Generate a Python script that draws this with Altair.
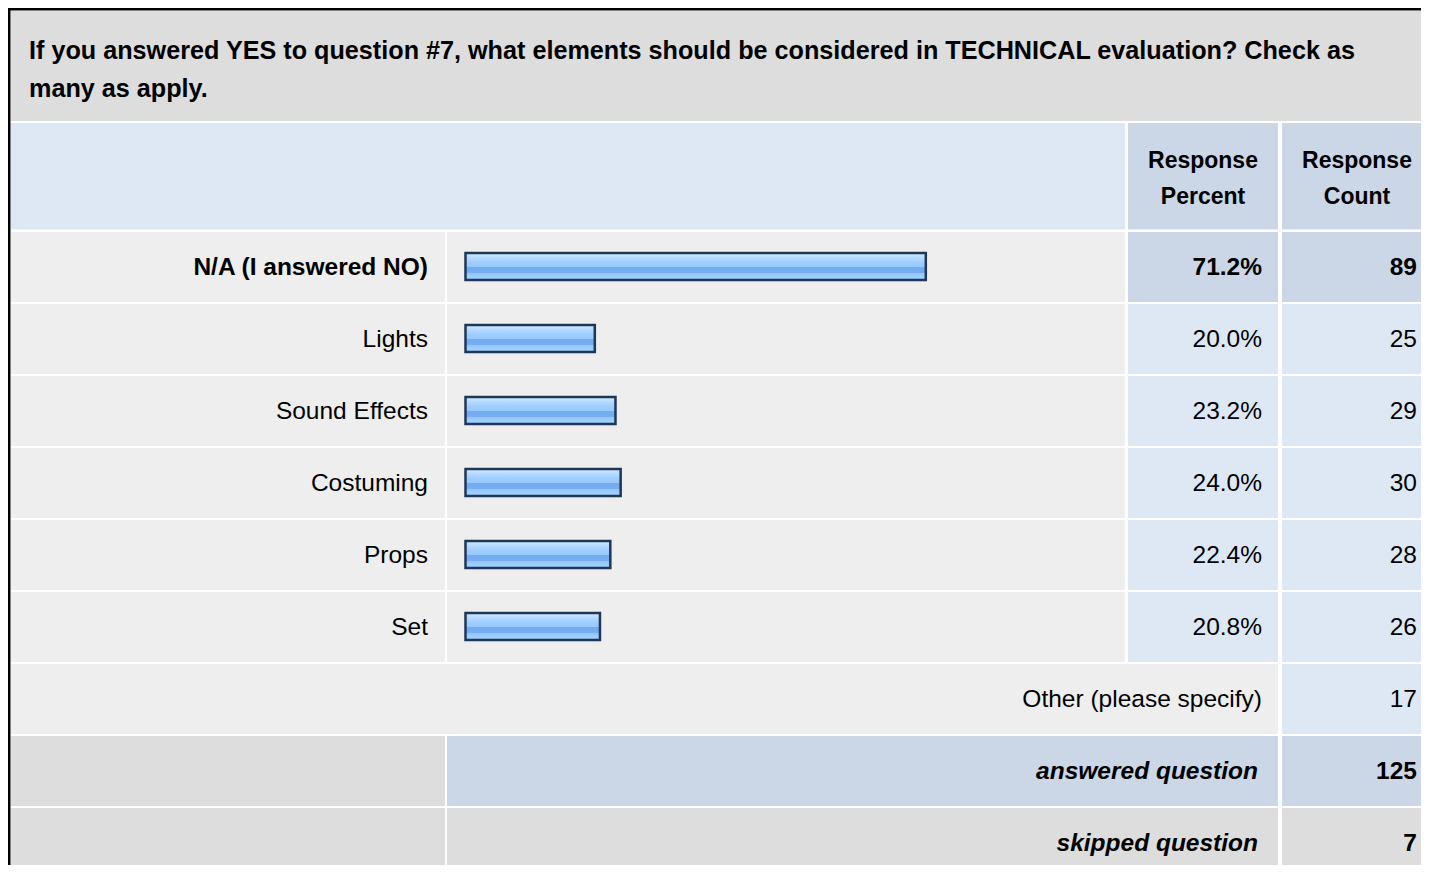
import altair as alt
import pandas as pd

# ---------------- data ----------------
title_lines = [
    "If you answered YES to question #7, what elements should be considered in TECHNICAL evaluation? Check as",
    "many as apply.",
]
header_percent = ["Response", "Percent"]
header_count = ["Response", "Count"]
categories = ["N/A (I answered NO)", "Lights", "Sound Effects", "Costuming", "Props", "Set"]
percents = [71.2, 20.0, 23.2, 24.0, 22.4, 20.8]
counts = [89, 25, 29, 30, 28, 26]
other_label = "Other (please specify)"
other_count = 17
answered_label = "answered question"
answered_count = 125
skipped_label = "skipped question"
skipped_count = 7

# ---------------- layout (chart pixels) ----------------
W, H = 1413, 857
C_LAB = (3, 437)
C_BAR = (439, 1117)
C_PCT = (1120, 1270)
C_CNT = (1274, W)
TITLE_Y = (3, 113)
HEAD_Y = (115, 221.5)
ROW0, PITCH, ROW_H = 224, 72, 70

GRAY = "#DDDDDD"
LIGHT = "#EEEEEE"
BLUE = "#DEE8F5"
BLUE2 = "#CBD7E6"
FONT = "Liberation Sans"

def row_top(i):
    return ROW0 + PITCH * i

cells = []
def cell(c, y, fill):
    cells.append({"x": c[0], "x2": c[1], "y": y[0], "y2": min(y[1], H), "fill": fill})

cell((C_LAB[0], W), TITLE_Y, GRAY)
cell((C_LAB[0], C_BAR[1]), HEAD_Y, BLUE)
cell(C_PCT, HEAD_Y, BLUE2)
cell(C_CNT, HEAD_Y, BLUE2)
pmax = max(percents)
for i, p in enumerate(percents):
    ry = (row_top(i), row_top(i) + ROW_H)
    cell(C_LAB, ry, LIGHT)
    cell(C_BAR, ry, LIGHT)
    f = BLUE2 if p == pmax else BLUE
    cell(C_PCT, ry, f)
    cell(C_CNT, ry, f)
n = len(categories)
ry = (row_top(n), row_top(n) + ROW_H)
cell((C_LAB[0], C_PCT[1]), ry, LIGHT)
cell(C_CNT, ry, BLUE)
ry = (row_top(n + 1), row_top(n + 1) + ROW_H)
cell(C_LAB, ry, GRAY)
cell((C_BAR[0], C_PCT[1]), ry, BLUE2)
cell(C_CNT, ry, BLUE2)
ry = (row_top(n + 2), row_top(n + 2) + ROW_H)
cell(C_LAB, ry, GRAY)
cell((C_BAR[0], C_PCT[1]), ry, GRAY)
cell(C_CNT, ry, GRAY)
# outer black frame (left & top)
cells.append({"x": 0, "x2": 2.5, "y": 0, "y2": H, "fill": "#000000"})
cells.append({"x": 0, "x2": W, "y": 0, "y2": 2.5, "fill": "#000000"})
cells_df = pd.DataFrame(cells)

texts = []
def txt(t, x, y, align, weight="normal", style="normal", size=24.5):
    texts.append({"t": t, "x": x, "y": y, "align": align, "weight": weight, "style": style, "size": size})

for k, line in enumerate(title_lines):
    txt(line, 21, 43 + 38 * k, "left", "bold", size=25.2)
for k, line in enumerate(header_percent):
    txt(line, 1195, 153 + 36 * k, "center", "bold", size=23)
for k, line in enumerate(header_count):
    txt(line, 1349, 153 + 36 * k, "center", "bold", size=23)
for i, (c, p, q) in enumerate(zip(categories, percents, counts)):
    yc = row_top(i) + 36
    w = "bold" if p == pmax else "normal"
    txt(c, 420, yc, "right", w)
    txt(f"{p:.1f}%", 1254, yc, "right", w)
    txt(str(q), 1409, yc, "right", w)
yc = row_top(n) + 36
txt(other_label, 1254, yc, "right")
txt(str(other_count), 1409, yc, "right")
yc = row_top(n + 1) + 36
txt(answered_label, 1250, yc, "right", "bold", "italic")
txt(str(answered_count), 1409, yc, "right", "bold")
yc = row_top(n + 2) + 36
txt(skipped_label, 1250, yc, "right", "bold", "italic")
txt(str(skipped_count), 1409, yc, "right", "bold")
texts_df = pd.DataFrame(texts)

bars_df = pd.DataFrame({
    "category": categories,
    "pct": percents,
    "y": [row_top(i) + 21 for i in range(n)],
    "y2": [row_top(i) + 48 for i in range(n)],
})

# ---------------- chart ----------------
rects = alt.Chart(cells_df).mark_rect().encode(
    x=alt.X("x:Q", scale=None, axis=None),
    x2="x2:Q",
    y=alt.Y("y:Q", scale=None, axis=None),
    y2="y2:Q",
    fill=alt.Fill("fill:N", scale=None, legend=None),
)

gradient = alt.LinearGradient(
    gradient="linear", x1=0, y1=0, x2=0, y2=1,
    stops=[
        alt.GradientStop(color="#D6EBFF", offset=0.0),
        alt.GradientStop(color="#B4DAFF", offset=0.18),
        alt.GradientStop(color="#9ECEFF", offset=0.35),
        alt.GradientStop(color="#98C9FF", offset=0.5),
        alt.GradientStop(color="#74ACF2", offset=0.53),
        alt.GradientStop(color="#74ACF2", offset=0.72),
        alt.GradientStop(color="#94C6FF", offset=0.75),
        alt.GradientStop(color="#A8D3FF", offset=1.0),
    ],
)
bars = alt.Chart(bars_df).mark_bar(
    fill=gradient, stroke="#1E3658", strokeWidth=2.5, cornerRadius=0
).encode(
    x=alt.X("pct:Q", scale=alt.Scale(domain=[0, 100], range=[457.5, 1104]), axis=None),
    x2=alt.datum(0),
    y=alt.Y("y:Q", scale=None, axis=None),
    y2="y2:Q",
)

def text_layer(df):
    layers = []
    for (align, weight, style, size), g in df.groupby(["align", "weight", "style", "size"]):
        layers.append(
            alt.Chart(g).mark_text(
                align=align, baseline="middle", font=FONT, fontWeight=weight,
                fontStyle=style, fontSize=size, color="#000000",
            ).encode(
                x=alt.X("x:Q", scale=None, axis=None),
                y=alt.Y("y:Q", scale=None, axis=None),
                text="t:N",
            )
        )
    return layers

chart = alt.layer(rects, bars, *text_layer(texts_df)).resolve_scale(
    x="independent", y="independent"
).properties(
    width=W, height=H, padding=0, background="#FFFFFF",
    autosize=alt.AutoSizeParams(type="none"),
).configure_view(stroke=None)

chart.save("out.html", embed_options={"renderer": "svg", "actions": False})
